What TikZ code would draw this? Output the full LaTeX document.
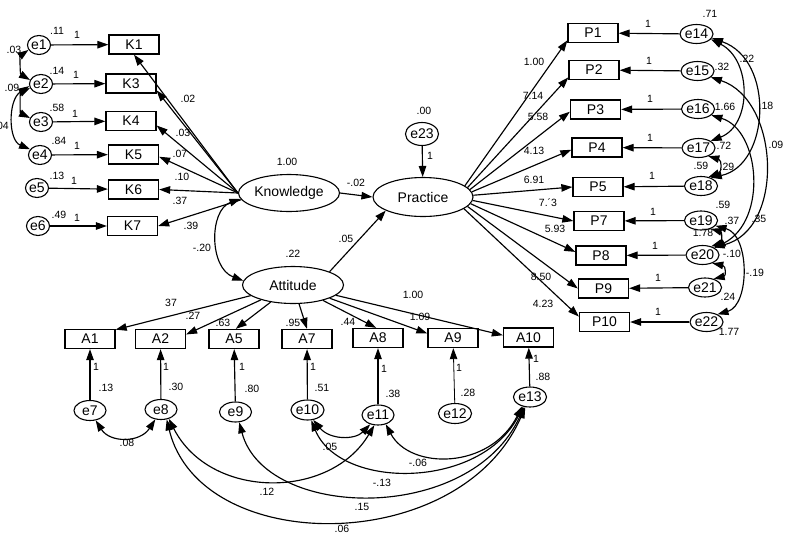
\documentclass[tikz,border=0pt]{standalone}
\usepackage{fontspec}
\setmainfont{Liberation Sans}
\usetikzlibrary{arrows.meta,shapes.geometric}

\newcommand\semnodefont{\fontsize{14}{16}\selectfont}
\newcommand\semlblfont{\fontsize{10.5}{12}\selectfont}

\tikzset{
  obs/.style={draw, rectangle, line width=1.3pt, minimum width=50pt,
    minimum height=19pt, inner sep=0pt, font=\semnodefont},
  lat/.style={draw, ellipse, line width=1.1pt, minimum width=101pt,
    minimum height=37pt, inner sep=0pt, font=\semnodefont},
  errc/.style={draw, ellipse, line width=1.1pt, minimum width=23pt,
    minimum height=19pt, inner sep=0pt, font=\semnodefont},
  errw/.style={draw, ellipse, line width=1.1pt, minimum width=32pt,
    minimum height=20pt, inner sep=0pt, font=\semnodefont},
  lbl/.style={inner sep=0pt, font=\semlblfont},
  path/.style={line width=1.15pt, -{Triangle[length=11pt,width=7.5pt]}},
  cov/.style={line width=1.15pt, {Triangle[length=11pt,width=7.5pt]}-{Triangle[length=11pt,width=7.5pt]}},
}

\begin{document}
\begin{tikzpicture}[x=1pt,y=-1pt]
\useasboundingbox[fill=white] (0,0) rectangle (792,536);

% ---- latent variables ----
\node[lat] (Knowledge) at (289,193) {Knowledge};
\node[lat, minimum width=100pt, minimum height=39pt] (Practice) at (423,197) {Practice};
\node[lat] (Attitude) at (293,285) {Attitude};
\node[errc, minimum width=26pt, minimum height=23pt] (e23) at (422,134) {e23};

% ---- knowledge indicators and their errors ----
\node[obs] (K1) at (134,44.5) {K1};
\node[obs] (K3) at (131,83.5) {K3};
\node[obs] (K4) at (131,121) {K4};
\node[obs] (K5) at (133.5,154.5) {K5};
\node[obs] (K6) at (133.5,189.5) {K6};
\node[obs] (K7) at (132.5,226) {K7};
\node[errc] (e1) at (39,45) {e1};
\node[errc] (e2) at (41,84) {e2};
\node[errc] (e3) at (41,122) {e3};
\node[errc] (e4) at (40,155) {e4};
\node[errc] (e5) at (37,188) {e5};
\node[errc] (e6) at (38,226) {e6};

% ---- practice indicators and their errors ----
\node[obs] (P1) at (593,33) {P1};
\node[obs] (P2) at (594,70) {P2};
\node[obs] (P3) at (595.5,109.5) {P3};
\node[obs] (P4) at (597,147.5) {P4};
\node[obs] (P5) at (598,187) {P5};
\node[obs] (P7) at (599,221) {P7};
\node[obs] (P8) at (601,255.5) {P8};
\node[obs] (P9) at (603.5,288.5) {P9};
\node[obs] (P10) at (604.5,322) {P10};
\node[errc] (e14) at (696.5,34) {e14};
\node[errc] (e15) at (697.5,71) {e15};
\node[errc] (e16) at (698,109) {e16};
\node[errc] (e17) at (698.5,148) {e17};
\node[errc] (e18) at (701,186) {e18};
\node[errc] (e19) at (701,220.5) {e19};
\node[errc] (e20) at (702.5,255) {e20};
\node[errc] (e21) at (705,287.5) {e21};
\node[errc] (e22) at (706.5,322) {e22};

% ---- attitude indicators and their errors ----
\node[obs] (A1) at (90,339) {A1};
\node[obs] (A2) at (160.5,339) {A2};
\node[obs] (A5) at (234,339) {A5};
\node[obs] (A7) at (307,339) {A7};
\node[obs] (A8) at (378,338) {A8};
\node[obs] (A9) at (453,338) {A9};
\node[obs] (A10) at (528.5,337.5) {A10};
\node[errw] (e7) at (90,410.5) {e7};
\node[errw] (e8) at (161,409.5) {e8};
\node[errw] (e9) at (235.5,412) {e9};
\node[errw] (e10) at (307.5,410) {e10};
\node[errw] (e11) at (378,415) {e11};
\node[errw] (e12) at (455,413.5) {e12};
\node[errw] (e13) at (530,397) {e13};

% ---- structural paths ----
\draw[path] (Knowledge.east) -- (Practice.west);
\draw[path] (Attitude.20) -- (Practice.200);
\draw[path] (e23) -- (Practice);
\draw[cov] (Knowledge.187) .. controls (209,210) and (209,268) .. (Attitude.175);

% ---- loadings: knowledge ----
\draw[path] (Knowledge.west) -- (K1.south);
\draw[path] (Knowledge.west) -- (K3.-15);
\draw[path] (Knowledge.west) -- (K4.-10);
\draw[path] (Knowledge.west) -- (K5.-5);
\draw[path] (Knowledge.west) -- (K6.east);
\draw[path] (Knowledge.188) -- (K7.east);

% ---- loadings: practice ----
\draw[path] (Practice.15) -- (P1.196);
\draw[path] (Practice.12) -- (P2.196);
\draw[path] (Practice.9) -- (P3.185);
\draw[path] (Practice.6) -- (P4.185);
\draw[path] (Practice.2) -- (P5.west);
\draw[path] (Practice.-4) -- (P7.west);
\draw[path] (Practice.-8) -- (P8.172);
\draw[path] (Practice.-12) -- (P9.west);
\draw[path] (Practice.-16) -- (P10.168);

% ---- loadings: attitude ----
\draw[path] (Attitude) -- (A1.20);
\draw[path] (Attitude) -- (A2.10);
\draw[path] (Attitude) -- (A5.80);
\draw[path] (Attitude) -- (A7.north);
\draw[path] (Attitude) -- (A8.100);
\draw[path] (Attitude) -- (A9.170);
\draw[path] (Attitude) -- (A10.175);

% ---- error paths ----
\foreach \e/\k in {e1/K1,e2/K3,e3/K4,e4/K5,e5/K6,e6/K7,
                   e14/P1,e15/P2,e16/P3,e17/P4,e18/P5,e19/P7,e20/P8,e21/P9,e22/P10,
                   e7/A1,e8/A2,e9/A5,e10/A7,e11/A8,e13/A10}
  \draw[path] (\e) -- (\k);
\draw[path, line width=0.8pt] (e12) -- (A9);

% ---- error covariances: knowledge ----
\draw[cov] (e1.205) .. controls (20,56) and (20,74) .. (e2.160);
\draw[cov] (e2.200) .. controls (20,93) and (20,113) .. (e3.160);
\draw[cov] (e2.190) .. controls (8,100) and (8,140) .. (e4.150);

% ---- error covariances: practice ----
\draw[cov] (e14.-20) .. controls (752,60) and (752,125) .. (e17.30);
\draw[cov] (e14.-15) .. controls (775,60) and (770,165) .. (e18.40);
\draw[cov] (e15.-25) .. controls (780,100) and (785,230) .. (e20.35);
\draw[cov] (e16.-25) .. controls (760,130) and (768,220) .. (e20.30);
\draw[cov] (e17.-40) .. controls (722,160) and (722,172) .. (e18.50);
\draw[cov] (e19.-40) .. controls (722,232) and (722,243) .. (e20.45);
\draw[cov] (e19.-20) .. controls (750,235) and (750,305) .. (e22.35);
\draw[cov] (e20.-40) .. controls (726,266) and (726,276) .. (e21.45);

% ---- error covariances: attitude ----
\draw[cov] (e7.-60) .. controls (110,443) and (140,443) .. (e8.-120);
\draw[cov] (e10.-60) .. controls (330,440) and (355,440) .. (e11.-130);
\draw[cov] (e11.-50) .. controls (410,470) and (490,470) .. (e13.-130);
\draw[cov] (e10.-70) .. controls (340,490) and (480,490) .. (e13.-125);
\draw[cov] (e9.-70) .. controls (265,520) and (470,525) .. (e13.-120);
\draw[cov] (e8.-60) .. controls (200,557) and (460,557) .. (e13.-115);
\draw[cov] (e8.-50) .. controls (210,500) and (330,500) .. (e11.-110);

% ---- estimates: knowledge block ----
\foreach \x/\y/\t [count=\i] in {
  57/31/.11, 77/35/1, 57/71/.14, 76/75/1, 57/108/.58, 75/114/1,
  59/141/.84, 77/146/1, 57/176/.13, 74/181/1, 59/215/.49, 77/218/1,
  14/50/.03, 12/88/.09,
  188/99/.02, 183/133/.03, 180/154/.07, 182/177/.10, 180/201/.37, 191/226/.39,
  287/162/1.00, 356/183/-.02, 202/248/-.20, 293/254/.22, 346/239/.05,
  424/111/.00, 430/156/1}
  \node[lbl] (lk\i) at (\x,\y) {\t};
\node[lbl, anchor=east] (lk0) at (9,126) {.04};

% ---- estimates: practice block ----
\foreach \x/\y/\t [count=\i] in {
  534/62/1.00, 533/96/7.14, 538/117/5.58, 534/151/4.13, 534/180/6.91,
  548/203/7.´3, 555/229/5.93, 541/277/8.50, 543/304/4.23,
  648/24/1, 649/61/1, 650/99/1, 650/138/1, 652/176/1, 653/212/1,
  655/246/1, 658/278/1, 658/312/1,
  710/14/.71, 722/67/.32, 725/107/1.66, 724/146/.72, 701/166/.59,
  723/205/.59, 703/233/1.78, 728/297/.24, 729/332/1.77,
  747/59/.22, 766/106/.18, 776/145/.09, 727/167/.29, 732/221/.37,
  759/219/.35, 732/254/-.10, 755/273/-.19}
  \node[lbl] (lp\i) at (\x,\y) {\t};

% ---- estimates: attitude block ----
\foreach \x/\y/\t [count=\i] in {
  171/303/37, 193/316/.27, 223/323/.63, 293/323/.95, 348/322/.44,
  413/295/1.00, 420/317/1.09,
  96/367/1, 166/367/1, 242/367/1, 313/367/1, 384/369/1, 459/368/1, 536/359/1,
  106/388/.13, 176/387/.30, 252/389/.80, 322/388/.51, 393/394/.38,
  468/393/.28, 543/377/.88,
  127/443/.08, 330/447/.05, 418/463/-.06, 382/483/-.13, 362/507/.15,
  267/492/.12, 342/529/.06}
  \node[lbl] (la\i) at (\x,\y) {\t};
\end{tikzpicture}
\end{document}
